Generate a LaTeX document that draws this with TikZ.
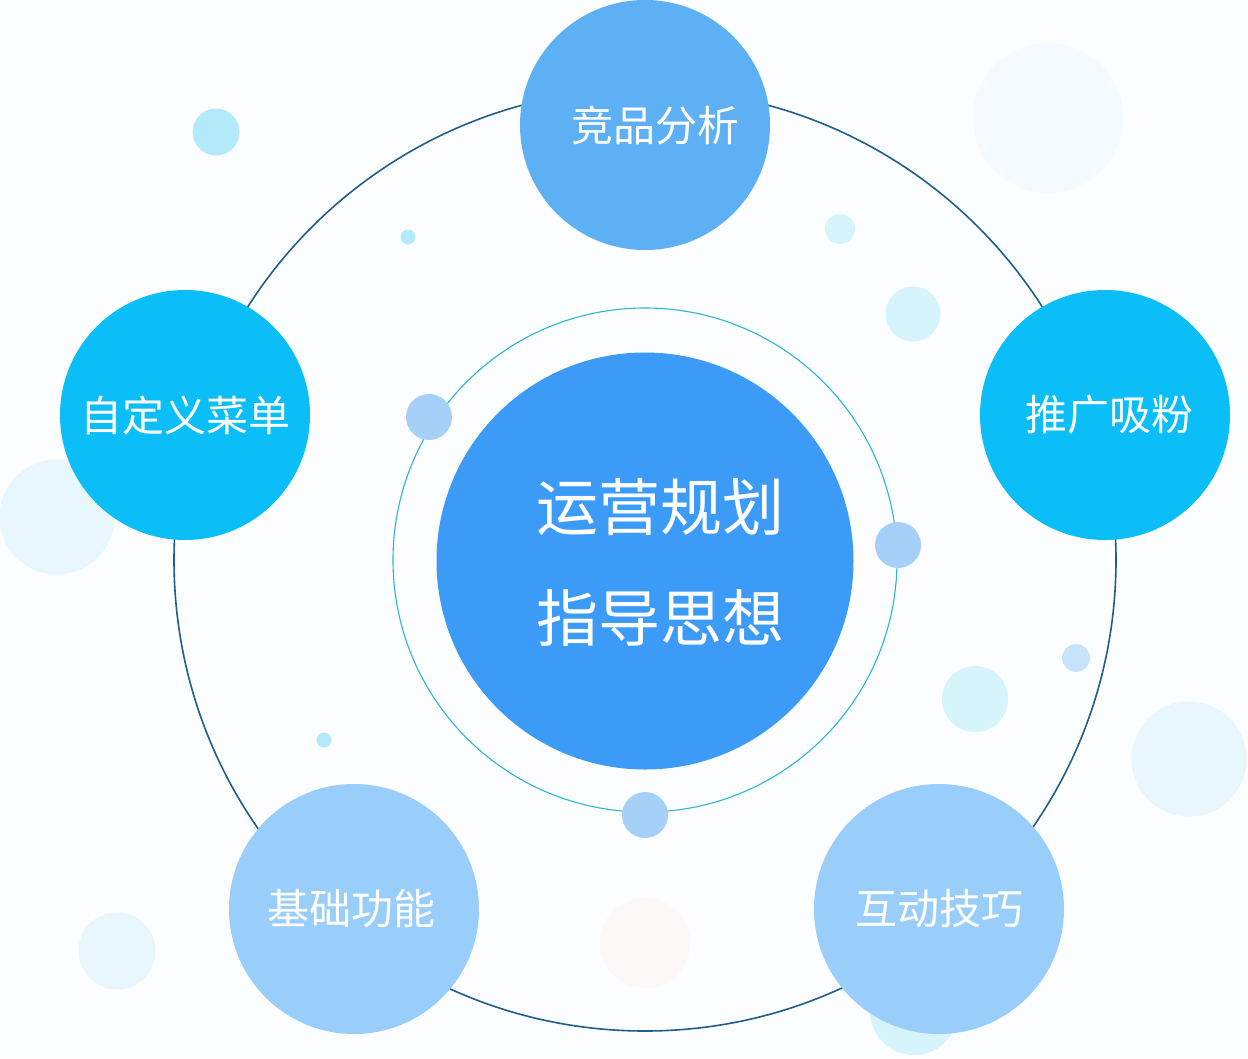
\documentclass[tikz,border=0pt]{standalone}
\usepackage{fontspec}
\newfontfamily\cjk{Noto Sans CJK SC}
\definecolor{bg}{HTML}{FCFDFE}
\definecolor{ringout}{HTML}{1D5F8A}
\definecolor{ringin}{HTML}{2DB6D2}
\definecolor{cmain}{HTML}{3C9BF7}
\definecolor{ctop}{HTML}{5EB0F4}
\definecolor{ccyan}{HTML}{0BBEF7}
\definecolor{clight}{HTML}{99CDFA}
\definecolor{cdot}{HTML}{A6D0F7}
\definecolor{b1}{HTML}{B3EAFA}
\definecolor{b2}{HTML}{D6F4FC}
\definecolor{b3}{HTML}{E7F7FD}
\definecolor{b4}{HTML}{F4FAFE}
\definecolor{b5}{HTML}{C6E3FA}
\definecolor{bpink}{HTML}{FDF8F8}
\tikzset{
  bubble/.style={circle, inner sep=0pt, draw=none},
  topic/.style={circle, inner sep=0pt, minimum size=250pt, draw=none, text=white,
    font=\cjk\fontsize{42}{50}\selectfont},
  ringdot/.style={circle, inner sep=0pt, minimum size=46pt, fill=cdot, draw=none},
}
\begin{document}
\begin{tikzpicture}[x=1pt,y=-1pt]
\useasboundingbox (0,0) rectangle (1248,1058);
\fill[bg] (0,0) rectangle (1248,1058);
\coordinate (c) at (645,560);
% decorative bubbles
\node[bubble, fill=b1, minimum size=47pt] (d1) at (216,132) {};
\node[bubble, fill=b1, minimum size=15pt] (d2) at (408,237) {};
\node[bubble, fill=b2, minimum size=30pt] (d3) at (840,229) {};
\node[bubble, fill=b2, minimum size=55pt] (d4) at (913,314) {};
\node[bubble, fill=b4, minimum size=150pt] (d5) at (1048,118) {};
\node[bubble, fill=b5, minimum size=28pt] (d6) at (1076,658) {};
\node[bubble, fill=b2, minimum size=66pt] (d7) at (975,699) {};
\node[bubble, fill=b3, minimum size=115pt] (d8) at (1189,759) {};
\node[bubble, fill=b2, minimum size=88pt] (d9) at (914,1011) {};
\node[bubble, fill=b1, minimum size=15pt] (d10) at (324,740) {};
\node[bubble, fill=b3, minimum size=77pt] (d11) at (117,951) {};
\node[bubble, fill=bpink, minimum size=90pt] (d12) at (645,943) {};
\node[bubble, fill=b3, minimum size=115pt] (d13) at (57,517) {};
% rings
\draw[ringout, line width=1.6pt] (c) circle (471);
\draw[ringin, line width=1.1pt] (c) circle (252);
% dots on inner ring
\node[ringdot] (r1) at (429,417) {};
\node[ringdot] (r2) at (898,545) {};
\node[ringdot] (r3) at (645,815) {};
% centre
\node[circle, inner sep=0pt, minimum size=417pt, fill=cmain] (main) at (645,561) {};
\node[text=white, inner sep=0pt, font=\cjk\fontsize{62}{111}\selectfont, align=center]
  (mtext) at (660,562) {运营规划\\指导思想};
% topics
\node[topic, fill=ctop] (t1) at (645,125) {\hspace*{20pt}竞品分析};
\node[topic, fill=ccyan] (t2) at (185,415) {自定义菜单};
\node[topic, fill=ccyan] (t3) at (1105,415) {\hspace*{8pt}推广吸粉};
\node[topic, fill=clight] (t4) at (354,909) {基础功能\hspace*{6pt}};
\node[topic, fill=clight] (t5) at (939,909) {互动技巧};
\end{tikzpicture}
\end{document}
